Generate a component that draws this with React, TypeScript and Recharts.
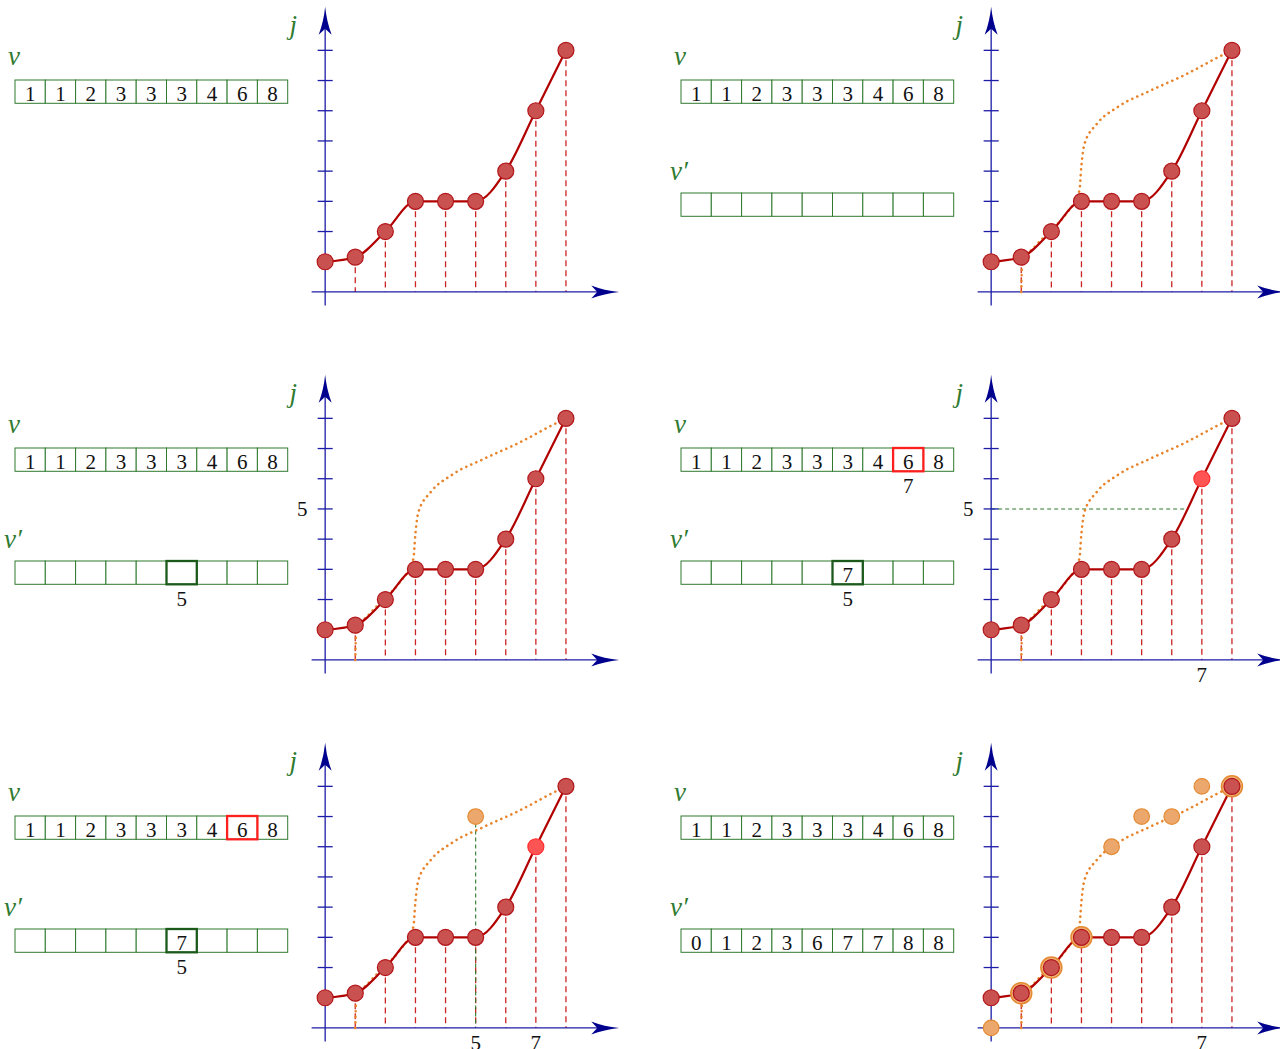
import React from 'react';
import { ComposedChart, Line, Scatter, XAxis, YAxis, ReferenceLine, ReferenceDot } from 'recharts';

// ---- data ----
const idx = [0, 1, 2, 3, 4, 5, 6, 7, 8];
const vValues = ['1', '1', '2', '3', '3', '3', '4', '6', '8'];
const vPrimeBlank = ['', '', '', '', '', '', '', '', ''];
const vPrimeStep = ['', '', '', '', '', '7', '', '', ''];
const vPrimeFinal = [0, 1, 2, 3, 6, 7, 7, 8, 8];

// heights of the red points as drawn (j axis)
const redJ = [1, 1.15, 2, 3, 3, 3, 4, 6, 8];
const jTicks = [1, 2, 3, 4, 5, 6, 7, 8];

// dotted orange curve
const orangeX = [1.0, 1.03, 1.5, 2.0, 2.5, 2.93, 3.0, 3.1, 3.5, 4.2, 5.3, 6.4, 7.5, 8.0];
const orangeJ = [0, 0.9, 1.55, 2.05, 2.6, 3.35, 4.2, 4.9, 5.55, 6.12, 6.67, 7.17, 7.75, 8.0];

const ringIdx = [1, 2, 3, 8];
const looseOrangeIdx = [0, 4, 5, 6, 7];
const probePoint = [{ x: 5, y: 7 }];
const crossAt5 = 6.55;

// ---- layout / style ----
const UX = 30.1;
const UY = 30.2;
const XD: [number, number] = [-1.6, 10.2];
const YD: [number, number] = [-1.0, 9.7];
const CW = 30.3;
const CH = 23.3;
const colX = [{ arr: 15, ox: 325 }, { arr: 681, ox: 991 }];
const rowY = [0, 368, 736];

const AXIS = '#1c1ca6';
const ARROW = '#00008f';
const RED_LINE = '#b10000';
const RED_DASH = '#cc2424';
const DOT_FILL = '#c9514f';
const DOT_STROKE = '#b3161a';
const HOT_FILL = '#ff5454';
const HOT_STROKE = '#ff2d2d';
const ORANGE = '#e8832a';
const ORANGE_FILL = '#eca86c';
const ORANGE_STROKE = '#e48a32';
const GREEN = '#2f7a2f';
const GREEN_DARK = '#1c5a1c';
const FONT = '"Liberation Serif", "Times New Roman", serif';

const panels = [
  { col: 0, row: 0, prime: null as any, orange: false },
  { col: 1, row: 0, prime: vPrimeBlank, orange: true },
  { col: 0, row: 1, prime: vPrimeBlank, primeMark: 5, primeBelow: '5', orange: true, y5: true },
  { col: 1, row: 1, vMark: 7, vBelow: '7', prime: vPrimeStep, primeMark: 5, primeBelow: '5', orange: true, y5: true, hot: 7, hLine: true, xLabels: [7] },
  { col: 0, row: 2, vMark: 7, prime: vPrimeStep, primeMark: 5, primeBelow: '5', orange: true, hot: 7, probe: true, xLabels: [5, 7] },
  { col: 1, row: 2, prime: vPrimeFinal.map(String), orange: true, final: true, xLabels: [7] },
];

const circle = (r: number, fill: string, stroke: string, sw = 1.2) => (p: any) => (
  <circle cx={p.cx} cy={p.cy} r={r} fill={fill} stroke={stroke} strokeWidth={sw} />
);

const arrowUp = (p: any) => (
  <path
    d={`M${p.cx},${p.cy} Q${p.cx - 1.5},${p.cy + 15} ${p.cx - 6.5},${p.cy + 28} L${p.cx},${p.cy + 22} L${p.cx + 6.5},${p.cy + 28} Q${p.cx + 1.5},${p.cy + 15} ${p.cx},${p.cy} Z`}
    fill={ARROW}
  />
);
const arrowRight = (p: any) => (
  <path
    d={`M${p.cx},${p.cy} Q${p.cx - 15},${p.cy - 1.5} ${p.cx - 28},${p.cy - 6.5} L${p.cx - 22},${p.cy} L${p.cx - 28},${p.cy + 6.5} Q${p.cx - 15},${p.cy + 1.5} ${p.cx},${p.cy} Z`}
    fill={ARROW}
  />
);
const text = (s: string, color = '#111', italic = false, size = 21) => (p: any) => (
  <text x={p.cx} y={p.cy} textAnchor="middle" fontFamily={FONT} fontSize={size} fill={color} fontStyle={italic ? 'italic' : 'normal'}>
    {s}
  </text>
);

function Plot({ cfg }: { cfg: any }) {
  const ox = colX[cfg.col].ox;
  const oy = 292 + rowY[cfg.row];
  const w = (XD[1] - XD[0]) * UX;
  const h = (YD[1] - YD[0]) * UY;
  const left = ox + XD[0] * UX;
  const top = oy - YD[1] * UY;

  const redPts = idx.map((i) => ({ x: i, y: redJ[i] }));
  const normalPts = redPts.filter((p) => p.x !== cfg.hot);
  const hotPts = redPts.filter((p) => p.x === cfg.hot);
  const orangePts = orangeX.map((x, k) => ({ x, y: orangeJ[k] }));
  const ringPts = ringIdx.map((i) => ({ x: i, y: redJ[i] }));
  const loosePts = looseOrangeIdx.map((i) => ({ x: i, y: vPrimeFinal[i] }));

  return (
    <div style={{ position: 'absolute', left, top, width: w, height: h }}>
      <ComposedChart width={w} height={h} margin={{ top: 0, right: 0, bottom: 0, left: 0 }}>
        <XAxis type="number" dataKey="x" domain={XD} hide allowDataOverflow />
        <YAxis type="number" dataKey="y" domain={YD} hide allowDataOverflow width={0} />

        {idx.slice(1).map((i) => (
          <ReferenceLine
            key={'d' + i}
            segment={[{ x: i, y: redJ[i] }, { x: i, y: 0 }]}
            stroke={RED_DASH}
            strokeWidth={1.3}
            strokeDasharray="6 4"
            ifOverflow="visible"
          />
        ))}
        {cfg.hLine && (
          <ReferenceLine segment={[{ x: 0, y: 5 }, { x: crossAt5, y: 5 }]} stroke={GREEN} strokeWidth={1.1} strokeDasharray="4 3" ifOverflow="visible" />
        )}
        {cfg.probe && (
          <ReferenceLine segment={[{ x: probePoint[0].x, y: probePoint[0].y }, { x: probePoint[0].x, y: 0 }]} stroke={GREEN} strokeWidth={1.1} strokeDasharray="4 3" ifOverflow="visible" />
        )}

        <ReferenceLine segment={[{ x: -0.45, y: 0 }, { x: 9.2, y: 0 }]} stroke={AXIS} strokeWidth={1.3} ifOverflow="visible" />
        <ReferenceLine segment={[{ x: 0, y: -0.45 }, { x: 0, y: 9.0 }]} stroke={AXIS} strokeWidth={1.3} ifOverflow="visible" />
        {jTicks.map((j) => (
          <ReferenceLine key={'t' + j} segment={[{ x: -0.25, y: j }, { x: 0.25, y: j }]} stroke={AXIS} strokeWidth={1.3} ifOverflow="visible" />
        ))}
        <ReferenceDot x={9.77} y={0} r={0} ifOverflow="visible" shape={arrowRight} />
        <ReferenceDot x={0} y={9.44} r={0} ifOverflow="visible" shape={arrowUp} />
        <ReferenceDot x={-1.06} y={8.54} r={0} ifOverflow="visible" shape={text('j', GREEN, true, 27)} />
        {cfg.y5 && <ReferenceDot x={-0.76} y={4.75} r={0} ifOverflow="visible" shape={text('5')} />}
        {(cfg.xLabels || []).map((i: number) => (
          <ReferenceDot key={'xl' + i} x={i} y={-0.74} r={0} ifOverflow="visible" shape={text(String(i))} />
        ))}

        {cfg.orange && (
          <Line
            data={orangePts}
            dataKey="y"
            type="monotone"
            stroke={ORANGE}
            strokeWidth={2.6}
            strokeDasharray="0.1 5.4"
            strokeLinecap="round"
            dot={false}
            isAnimationActive={false}
          />
        )}
        <Line data={redPts} dataKey="y" type="monotone" stroke={RED_LINE} strokeWidth={2.2} dot={false} isAnimationActive={false} />

        {cfg.probe && <Scatter data={probePoint} shape={circle(7.8, ORANGE_FILL, ORANGE_STROKE)} isAnimationActive={false} />}
        {cfg.final && <Scatter data={loosePts} shape={circle(7.8, ORANGE_FILL, ORANGE_STROKE)} isAnimationActive={false} />}
        {cfg.final && <Scatter data={ringPts} shape={circle(10.5, '#f1b377', ORANGE_STROKE, 1.5)} isAnimationActive={false} />}
        <Scatter data={normalPts} shape={circle(8, DOT_FILL, DOT_STROKE)} isAnimationActive={false} />
        {hotPts.length > 0 && <Scatter data={hotPts} shape={circle(8, HOT_FILL, HOT_STROKE)} isAnimationActive={false} />}
      </ComposedChart>
    </div>
  );
}

function Cells({ x0, y0, values, mark, markColor, below }: any) {
  return (
    <g>
      {values.map((s: string, i: number) => (
        <g key={i}>
          <rect x={x0 + i * CW} y={y0} width={CW} height={CH} fill="#fff" stroke={GREEN} strokeWidth={1} />
          <text x={x0 + (i + 0.5) * CW} y={y0 + 20.8} textAnchor="middle" fontFamily={FONT} fontSize={21} fill="#111">
            {s}
          </text>
        </g>
      ))}
      {mark !== undefined && (
        <rect x={x0 + mark * CW} y={y0} width={CW} height={CH} fill="none" stroke={markColor} strokeWidth={2.3} />
      )}
      {mark !== undefined && below && (
        <text x={x0 + (mark + 0.5) * CW} y={y0 + CH + 21.5} textAnchor="middle" fontFamily={FONT} fontSize={21} fill="#111">
          {below}
        </text>
      )}
    </g>
  );
}

function Arrays() {
  return (
    <svg width={1280} height={1049} style={{ position: 'absolute', left: 0, top: 0, pointerEvents: 'none' }}>
      {panels.map((p: any, k) => {
        const ax = colX[p.col].arr;
        const vTop = 80 + rowY[p.row];
        const pTop = 193 + rowY[p.row];
        return (
          <g key={k}>
            <text x={ax - 7} y={vTop - 15} fontFamily={FONT} fontStyle="italic" fontSize={27} fill={GREEN}>
              v
            </text>
            <Cells x0={ax} y0={vTop} values={vValues} mark={p.vMark} markColor="#ff1f1f" below={p.vBelow} />
            {p.prime && (
              <>
                <text x={ax - 11} y={pTop - 13} fontFamily={FONT} fontStyle="italic" fontSize={27} fill={GREEN}>
                  v′
                </text>
                <Cells x0={ax} y0={pTop} values={p.prime} mark={p.primeMark} markColor={GREEN_DARK} below={p.primeBelow} />
              </>
            )}
          </g>
        );
      })}
    </svg>
  );
}

export default function App() {
  return (
    <div style={{ position: 'absolute', left: 0, top: 0, width: 1280, height: 1049, overflow: 'hidden', background: '#fff' }}>
      {panels.map((p, k) => (
        <Plot key={k} cfg={p} />
      ))}
      <Arrays />
    </div>
  );
}
